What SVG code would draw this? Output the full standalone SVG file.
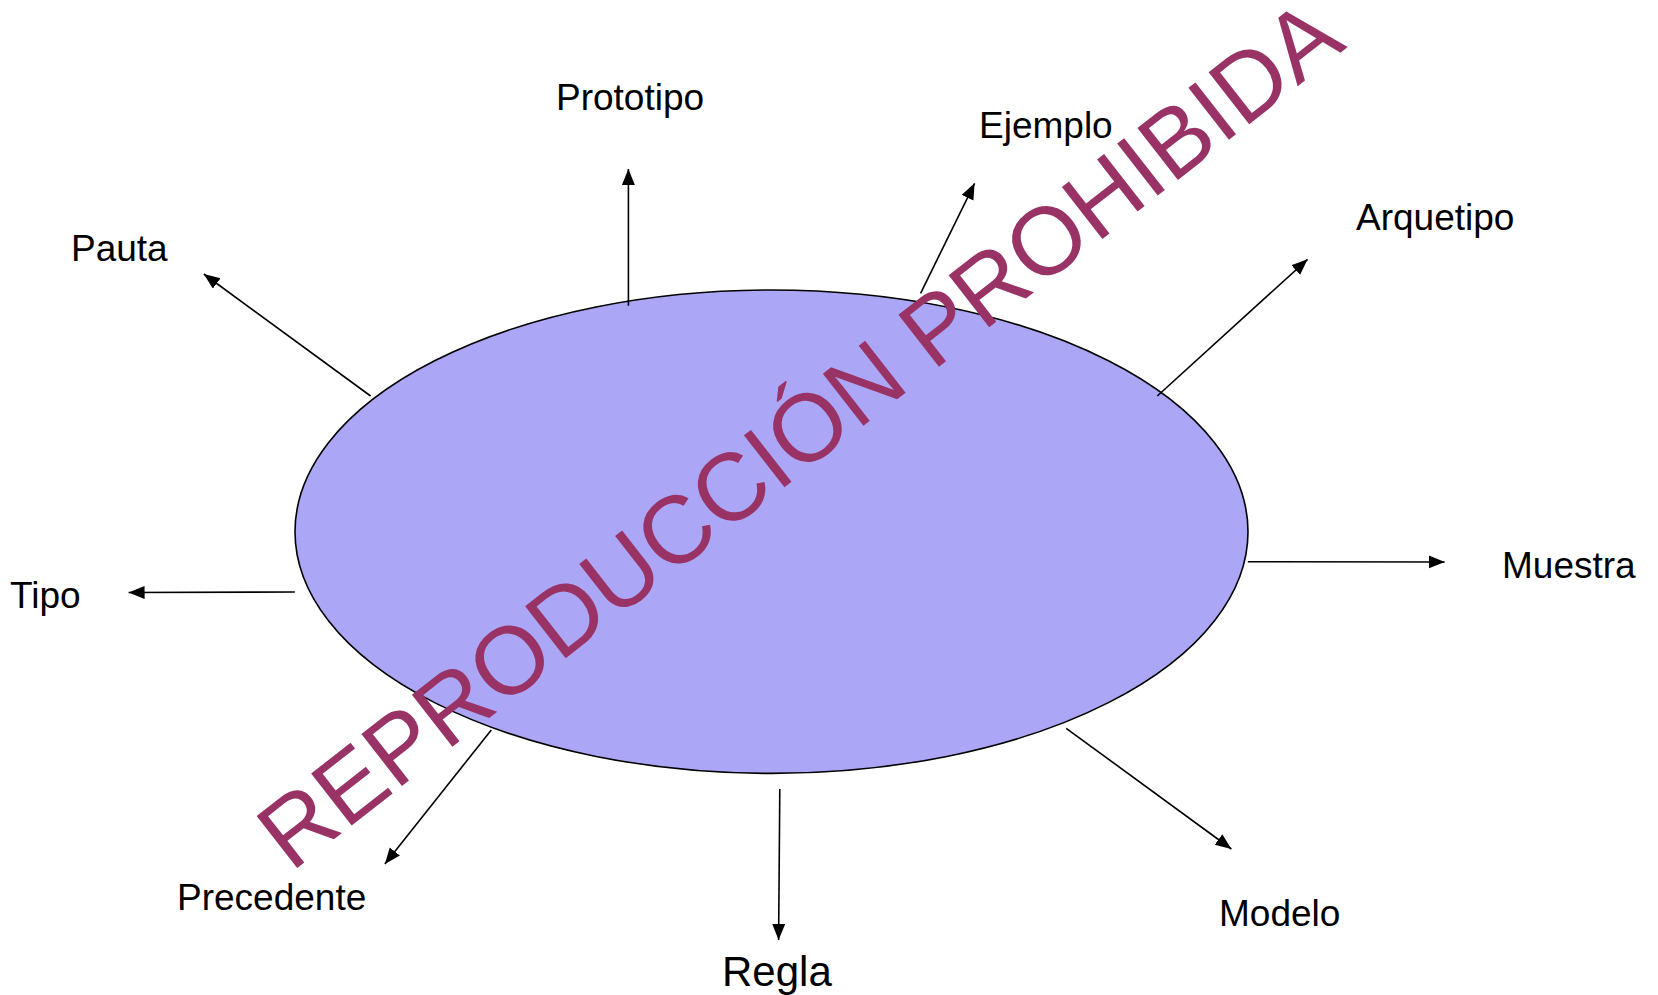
<svg xmlns="http://www.w3.org/2000/svg" width="1658" height="995" viewBox="0 0 1658 995">
<defs>
<marker id="ah" markerUnits="userSpaceOnUse" markerWidth="18" markerHeight="14" refX="16" refY="6.5" orient="auto">
<path d="M0,0 L16,6.5 L0,13 z" fill="#000"/>
</marker>
<style>
.lbl{font-family:"Liberation Sans",Arial,sans-serif;font-size:37px;fill:#000}
.edge{stroke:#000;stroke-width:1.6;fill:none;marker-end:url(#ah)}
.wm{font-family:"Liberation Sans",Arial,sans-serif;font-size:95.8px;fill:#993366}
</style>
</defs>
<rect width="1658" height="995" fill="#fff"/>
<g id="centro">
<ellipse cx="771.5" cy="531.7" rx="476.5" ry="241.7" fill="#aba6f5" stroke="#000" stroke-width="1.6"/>
</g>
<g id="connectors">
<line class="edge" x1="628.4" y1="305.7" x2="628.4" y2="169"/>
<line class="edge" x1="370.6" y1="396" x2="203.8" y2="274"/>
<line class="edge" x1="920.6" y1="293.3" x2="974.6" y2="183.3"/>
<line class="edge" x1="1157.3" y1="396" x2="1307.6" y2="259.3"/>
<line class="edge" x1="294.9" y1="592" x2="128.6" y2="592.5"/>
<line class="edge" x1="1247.8" y1="561.7" x2="1444.7" y2="562"/>
<line class="edge" x1="491.3" y1="730" x2="384.9" y2="864"/>
<line class="edge" x1="779.8" y1="789" x2="778.6" y2="940"/>
<line class="edge" x1="1066.2" y1="728.3" x2="1231.4" y2="849"/>
</g>
<g id="prototipo"><text class="lbl" x="556" y="110">Prototipo</text></g>
<g id="pauta"><text class="lbl" x="71" y="261">Pauta</text></g>
<g id="ejemplo"><text class="lbl" x="979" y="138">Ejemplo</text></g>
<g id="arquetipo"><text class="lbl" x="1356" y="230">Arquetipo</text></g>
<g id="tipo"><text class="lbl" x="10" y="608">Tipo</text></g>
<g id="muestra"><text class="lbl" x="1502" y="578">Muestra</text></g>
<g id="precedente"><text class="lbl" x="177" y="910">Precedente</text></g>
<g id="regla"><text class="lbl" x="722" y="986" style="font-size:42px">Regla</text></g>
<g id="modelo"><text class="lbl" x="1219" y="926">Modelo</text></g>
<g id="marca">
<text class="wm" x="291" y="872.8" transform="rotate(-38 291 872.8)">REPRODUCCIÓN PROHIBIDA</text>
</g>
</svg>
